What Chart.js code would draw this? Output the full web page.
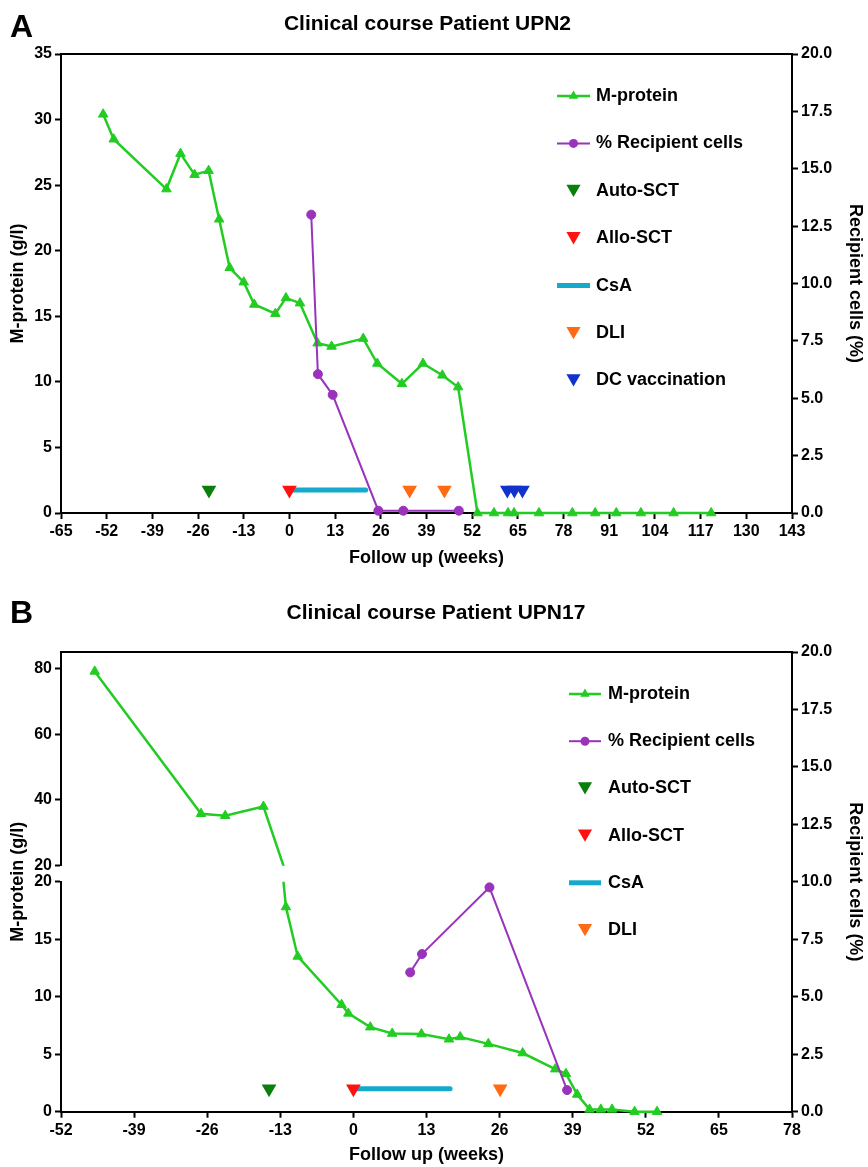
<!DOCTYPE html>
<html><head><meta charset="utf-8">
<script src="https://cdn.jsdelivr.net/npm/chart.js@4.4.1/dist/chart.umd.min.js"></script>
<style>
html,body{margin:0;padding:0;background:#fff;}
#wrap{position:relative;width:868px;height:1167px;overflow:hidden;font-family:'Liberation Sans',Arial,sans-serif;}
.box{position:absolute;left:0;width:868px;}
.lbl{position:absolute;font-weight:bold;color:#000;white-space:nowrap;line-height:1;}
</style></head><body>
<div id="wrap">
  <div class="box" style="top:0;height:580px;"><canvas id="cA" width="868" height="580"></canvas></div>
  <div class="box" style="top:580px;height:587px;"><canvas id="cB" width="868" height="587"></canvas></div>
  <div class="lbl" style="left:10px;top:10px;font-size:32px;">A</div>
  <div class="lbl" style="left:0;width:855px;text-align:center;top:12px;font-size:21px;">Clinical course Patient UPN2</div>
  <div class="lbl" style="left:10px;top:596px;font-size:32px;">B</div>
  <div class="lbl" style="left:0;width:872px;text-align:center;top:601px;font-size:21px;">Clinical course Patient UPN17</div>
</div>
<script>
// ---------------- Panel A data ----------------
const weeksA_M = [-53, -50, -35, -31, -27, -23, -20, -17, -13, -10, -4, -1, 3, 8, 12, 21, 25, 32, 38, 43.5, 48, 53.5, 58.2, 62.2, 63.9, 71, 80.5, 87, 93, 100, 109.3, 120];
const mProteinA = [30.4, 28.5, 24.7, 27.4, 25.8, 26.1, 22.4, 18.7, 17.6, 15.9, 15.2, 16.4, 16.0, 12.95, 12.7, 13.3, 11.4, 9.85, 11.4, 10.5, 9.6, 0, 0, 0, 0, 0, 0, 0, 0, 0, 0, 0];
const weeksA_R = [6.2, 8.1, 12.3, 25.3, 32.4, 48.2];
const recipientA = [13.0, 6.05, 5.15, 0.1, 0.1, 0.1];
const autoSctA = [-22.9];
const alloSctA = [0];
const csaA = [0, 21.7];
const dliA = [34.2, 44.1];
const dcVacA = [62, 64, 66.3];
const eventLevelA = 1.75;
const xTicksA = [-65, -52, -39, -26, -13, 0, 13, 26, 39, 52, 65, 78, 91, 104, 117, 130, 143];
const yTicksA = [0, 5, 10, 15, 20, 25, 30, 35];
const y2Ticks = [0, 2.5, 5, 7.5, 10, 12.5, 15, 17.5, 20];

// ---------------- Panel B data ----------------
const weeksB_M = [-46, -27.1, -22.8, -16, -12, -9.9, -2.1, -0.9, 3, 6.9, 12.1, 17, 19, 24, 30.1, 35.9, 37.8, 39.8, 42, 44, 46, 50, 54];
const mProteinB = [79.1, 35.8, 35.2, 38.0, 17.8, 13.5, 9.3, 8.55, 7.35, 6.8, 6.75, 6.3, 6.5, 5.9, 5.1, 3.7, 3.3, 1.5, 0.2, 0.2, 0.2, 0, 0];
const weeksB_R = [10.1, 12.2, 24.2, 38.0];
const recipientB = [6.06, 6.86, 9.76, 0.94];
const autoSctB = [-15.0];
const alloSctB = [0];
const csaB = [0, 17.2];
const dliB = [26.1];
const eventLevelB = 2.0;
const xTicksB = [-52, -39, -26, -13, 0, 13, 26, 39, 52, 65, 78];
const yLowTicksB = [0, 5, 10, 15, 20];
const yHighTicksB = [20, 40, 60, 80];

// ---------------- styling ----------------
const FONT = "'Liberation Sans', Arial, sans-serif";
const C = {
  green: '#22CC22', purple: '#9933BB', auto: '#0B7F0B', allo: '#FF1111',
  csa: '#15AACB', dli: '#FF6A12', dc: '#1133CC'
};

function pts(xs, ys) { return xs.map((x, i) => ({x: x, y: ys[i]})); }
function lvl(xs, level) { return xs.map(x => ({x: x, y: level})); }

function axis(ticks, extra) {
  const a = {
    type: 'linear',
    grid: {display: true, drawOnChartArea: false, drawTicks: true, tickLength: 6, tickColor: '#000', tickWidth: 2, color: '#000'},
    border: {display: true, color: '#000', width: 2},
    ticks: {color: '#000', font: {family: FONT, size: 16, weight: 'bold'}, padding: 3, autoSkip: false, maxRotation: 0, minRotation: 0},
    afterBuildTicks: s => { s.ticks = ticks.map(v => ({value: v})); }
  };
  return Object.assign(a, extra);
}
function titleOpt(text, padding) {
  return {display: true, text: text, color: '#000', font: {family: FONT, size: 18, weight: 'bold'}, padding: padding};
}

function mLine(data, yAxisID, extra) {
  return Object.assign({
    label: 'M-protein', data: data, yAxisID: yAxisID, showLine: true,
    borderColor: C.green, borderWidth: 2.5, tension: 0,
    pointStyle: 'triangle', pointRadius: 5.5, pointBackgroundColor: C.green, pointBorderColor: C.green, pointBorderWidth: 1,
    clip: false
  }, extra || {});
}
function rLine(data) {
  return {
    label: '% Recipient cells', data: data, yAxisID: 'y2', showLine: true,
    borderColor: C.purple, borderWidth: 2, tension: 0,
    pointStyle: 'circle', pointRadius: 4.5, pointBackgroundColor: C.purple, pointBorderColor: C.purple, pointBorderWidth: 1,
    clip: false
  };
}
function evt(label, data, color, yAxisID) {
  return {
    label: label, data: data, yAxisID: yAxisID, showLine: false,
    pointStyle: 'triangle', pointRotation: 180, pointRadius: 8.5,
    pointBackgroundColor: color, pointBorderColor: color, pointBorderWidth: 0, clip: false
  };
}
function bar(label, data, color, yAxisID) {
  return {
    label: label, data: data, yAxisID: yAxisID, showLine: true, borderColor: color, borderWidth: 5,
    borderCapStyle: 'round', pointRadius: 0, clip: false
  };
}

// ---------------- plugins ----------------
const topBorder = {
  id: 'topBorder',
  afterDraw(chart) {
    const ctx = chart.ctx, a = chart.chartArea;
    ctx.save();
    ctx.strokeStyle = '#000'; ctx.lineWidth = 2;
    ctx.beginPath(); ctx.moveTo(a.left - 1, a.top); ctx.lineTo(a.right + 1, a.top); ctx.stroke();
    ctx.restore();
  }
};
const breakClip = {
  id: 'breakClip',
  beforeDatasetDraw(chart, args) {
    const ds = chart.data.datasets[args.index];
    if (!ds.breakClip) return;
    const ys = args.meta.yScale, a = chart.chartArea, ctx = chart.ctx;
    const top = ys.top > a.top + 1 ? ys.top : a.top - 40;
    const bottom = ys.bottom < a.bottom - 1 ? ys.bottom : a.bottom + 40;
    ctx.save(); ctx.beginPath(); ctx.rect(a.left - 40, top, a.right - a.left + 80, bottom - top); ctx.clip();
  },
  afterDatasetDraw(chart, args) {
    const ds = chart.data.datasets[args.index];
    if (ds.breakClip) chart.ctx.restore();
  }
};
function legendPlugin(items, x0, x1, textX, y0, dy) {
  return {
    id: 'customLegend',
    afterDraw(chart) {
      const ctx = chart.ctx;
      ctx.save();
      ctx.font = 'bold 18px ' + FONT;
      ctx.textBaseline = 'middle';
      ctx.textAlign = 'left';
      items.forEach((it, i) => {
        const y = y0 + i * dy, xm = (x0 + x1) / 2;
        ctx.fillStyle = it.color; ctx.strokeStyle = it.color;
        if (it.kind === 'tri' || it.kind === 'circ') {
          ctx.lineWidth = it.kind === 'tri' ? 2.5 : 2;
          ctx.beginPath(); ctx.moveTo(x0, y); ctx.lineTo(x1, y); ctx.stroke();
        }
        if (it.kind === 'tri') {
          const r = 5.5;
          ctx.beginPath(); ctx.moveTo(xm, y - r); ctx.lineTo(xm + 0.866 * r, y + 0.5 * r); ctx.lineTo(xm - 0.866 * r, y + 0.5 * r); ctx.closePath(); ctx.fill();
        } else if (it.kind === 'circ') {
          ctx.beginPath(); ctx.arc(xm, y, 4.5, 0, Math.PI * 2); ctx.fill();
        } else if (it.kind === 'down') {
          const r = 8.2, yc = y - 2;
          ctx.beginPath(); ctx.moveTo(xm, yc + r); ctx.lineTo(xm + 0.866 * r, yc - 0.5 * r); ctx.lineTo(xm - 0.866 * r, yc - 0.5 * r); ctx.closePath(); ctx.fill();
        } else if (it.kind === 'bar') {
          ctx.lineWidth = 5; ctx.lineCap = 'butt';
          ctx.beginPath(); ctx.moveTo(x0, y); ctx.lineTo(x1, y); ctx.stroke();
        }
        ctx.fillStyle = '#000';
        ctx.fillText(it.label, textX, y);
      });
      ctx.restore();
    }
  };
}
const leftTitleB = {
  id: 'leftTitleB',
  afterDraw(chart) {
    const ctx = chart.ctx, a = chart.chartArea;
    ctx.save();
    ctx.translate(18, (a.top + a.bottom) / 2);
    ctx.rotate(-Math.PI / 2);
    ctx.font = 'bold 18px ' + FONT; ctx.fillStyle = '#000';
    ctx.textAlign = 'center'; ctx.textBaseline = 'middle';
    ctx.fillText('M-protein (g/l)', 0, 0);
    ctx.restore();
  }
};

const legendItemsA = [
  {kind: 'tri', color: C.green, label: 'M-protein'},
  {kind: 'circ', color: C.purple, label: '% Recipient cells'},
  {kind: 'down', color: C.auto, label: 'Auto-SCT'},
  {kind: 'down', color: C.allo, label: 'Allo-SCT'},
  {kind: 'bar', color: C.csa, label: 'CsA'},
  {kind: 'down', color: C.dli, label: 'DLI'},
  {kind: 'down', color: C.dc, label: 'DC vaccination'}
];
const legendItemsB = legendItemsA.slice(0, 6);

// ---------------- Chart A ----------------
new Chart(document.getElementById('cA'), {
  type: 'scatter',
  data: {datasets: [
    evt('Auto-SCT', lvl(autoSctA, eventLevelA), C.auto, 'y'),
    evt('Allo-SCT', lvl(alloSctA, eventLevelA), C.allo, 'y'),
    evt('DLI', lvl(dliA, eventLevelA), C.dli, 'y'),
    evt('DC vaccination', lvl(dcVacA, eventLevelA), C.dc, 'y'),
    bar('CsA', lvl(csaA, eventLevelA), C.csa, 'y'),
    rLine(pts(weeksA_R, recipientA)),
    mLine(pts(weeksA_M, mProteinA), 'y')
  ]},
  options: {
    responsive: false, animation: false, events: [],
    layout: {padding: {top: 54, left: 0, right: 0, bottom: 0}},
    plugins: {legend: {display: false}, tooltip: {enabled: false}, title: {display: false}},
    scales: {
      x: axis(xTicksA, {position: 'bottom', min: -65, max: 143, z: 1,
        title: titleOpt('Follow up (weeks)', {top: 0, bottom: 11}),
        afterFit: s => { s.height = 67; }}),
      y: axis(yTicksA, {position: 'left', min: 0, max: 35,
        title: titleOpt('M-protein (g/l)', {top: 7, bottom: 0}),
        afterFit: s => { s.width = 61; }}),
      y2: axis(y2Ticks, {position: 'right', min: 0, max: 20,
        ticks: {color: '#000', font: {family: FONT, size: 16, weight: 'bold'}, padding: 3, callback: v => v.toFixed(1)},
        title: titleOpt('Recipient cells (%)', {top: 2, bottom: 0}),
        afterFit: s => { s.width = 76; }})
    }
  },
  plugins: [topBorder, legendPlugin(legendItemsA, 557, 590, 596, 96, 47.4)]
});

// ---------------- Chart B ----------------
new Chart(document.getElementById('cB'), {
  type: 'scatter',
  data: {datasets: [
    evt('Auto-SCT', lvl(autoSctB, eventLevelB), C.auto, 'yLow'),
    evt('Allo-SCT', lvl(alloSctB, eventLevelB), C.allo, 'yLow'),
    evt('DLI', lvl(dliB, eventLevelB), C.dli, 'yLow'),
    bar('CsA', lvl(csaB, eventLevelB), C.csa, 'yLow'),
    rLine(pts(weeksB_R, recipientB)),
    mLine(pts(weeksB_M, mProteinB), 'yLow', {breakClip: true}),
    mLine(pts(weeksB_M, mProteinB), 'yHigh', {breakClip: true})
  ]},
  options: {
    responsive: false, animation: false, events: [],
    layout: {padding: {top: 72, left: 0, right: 0, bottom: 0}},
    plugins: {legend: {display: false}, tooltip: {enabled: false}, title: {display: false}},
    scales: {
      x: axis(xTicksB, {position: 'bottom', min: -52, max: 78, z: 1,
        title: titleOpt('Follow up (weeks)', {top: 0, bottom: 1}),
        afterFit: s => { s.height = 55.3; }}),
      yLow: axis(yLowTicksB, {position: 'left', min: 0, max: 20, stack: 'left', stackWeight: 230, weight: 1,
        afterFit: s => { s.width = 61; }}),
      yGap: {type: 'linear', position: 'left', min: 0, max: 1, stack: 'left', stackWeight: 16, weight: 2,
        grid: {display: false}, border: {display: false}, ticks: {display: false},
        afterFit: s => { s.width = 61; }},
      yHigh: axis(yHighTicksB, {position: 'left', min: 20, max: 85, stack: 'left', stackWeight: 213.7, weight: 3,
        afterFit: s => { s.width = 61; }}),
      y2: axis(y2Ticks, {position: 'right', min: 0, max: 20,
        ticks: {color: '#000', font: {family: FONT, size: 16, weight: 'bold'}, padding: 3, callback: v => v.toFixed(1)},
        title: titleOpt('Recipient cells (%)', {top: 2, bottom: 0}),
        afterFit: s => { s.width = 76; }})
    }
  },
  plugins: [topBorder, breakClip, leftTitleB, legendPlugin(legendItemsB, 569, 601, 608, 114, 47.2)]
});
</script>
</body></html>
